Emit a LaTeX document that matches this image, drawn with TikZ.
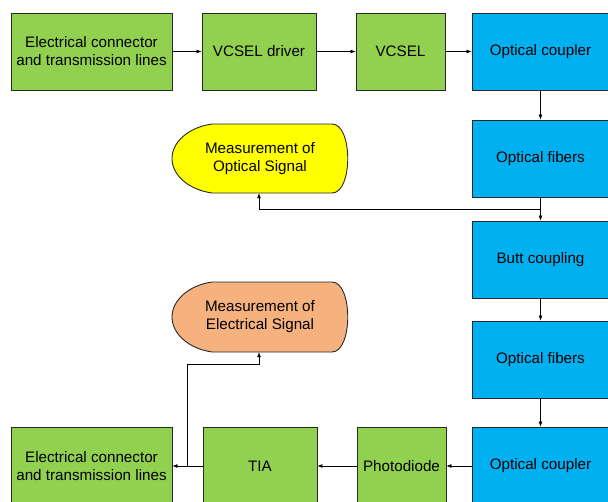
\documentclass[tikz,border=0pt]{standalone}
\usepackage{fontspec}
\setmainfont{Liberation Sans}
\usetikzlibrary{arrows.meta}
\definecolor{boxgreen}{RGB}{146,208,80}
\definecolor{boxblue}{RGB}{0,176,240}
\definecolor{measyellow}{RGB}{255,255,0}
\definecolor{measorange}{RGB}{246,178,126}
\definecolor{edgegray}{RGB}{40,40,40}
\tikzset{
  blockbase/.style={draw=edgegray, line width=0.9pt, align=center, inner sep=0pt,
    font=\fontsize{15.2}{18}\selectfont},
  greenbox/.style={blockbase, fill=boxgreen},
  bluebox/.style={blockbase, fill=boxblue},
  meastext/.style={align=center, inner sep=0pt, minimum width=176pt, minimum height=69pt,
    font=\fontsize{15.2}{18}\selectfont},
  link/.style={line width=0.7pt, -{Latex[length=5pt,width=4pt]}},
}
% box spanning corner (x1,y1) to (x2,y2), in picture units
\newcommand{\blockat}[7]{%
  \node[#1, minimum width={(#4)-(#2)}, minimum height={(#5)-(#3)}]
    (#6) at ({((#2)+(#4))/2},{((#3)+(#5))/2}) {#7};}
% flowchart "display" outline between x1 and x2, from top yt to bottom yb
\newcommand{\displayshape}[5]{%
  \pgfmathsetmacro{\ym}{((#3)+(#4))/2}%
  \path[draw=edgegray, line width=0.9pt, fill=#5]
    ({(#1)+40},#3) -- ({(#2)-16},#3)
    .. controls ({(#2)+5},#3) and ({(#2)+5},#4) .. ({(#2)-16},#4)
    -- ({(#1)+40},#4)
    .. controls ({(#1)+16.7},{(#4)-3.3}) and (#1,{\ym+16.7}) .. (#1,\ym)
    .. controls (#1,{\ym-16.7}) and ({(#1)+16.7},{(#3)+3.3}) .. cycle;}
\begin{document}
\begin{tikzpicture}[x=1pt,y=-1pt]
\useasboundingbox (0,0) rectangle (608,501);

% top row
\blockat{greenbox}{11}{13}{172}{90}{ecin}{Electrical connector\\and transmission lines}
\blockat{greenbox}{202}{13}{316}{90}{drv}{VCSEL driver}
\blockat{greenbox}{356}{13}{445}{90}{vcsel}{VCSEL}
\blockat{bluebox}{472}{13}{609}{90}{ocin}{Optical coupler}

% right column
\blockat{bluebox}{472}{120}{609}{197}{fib1}{Optical fibers}
\blockat{bluebox}{472}{221}{609}{298}{butt}{Butt coupling}
\blockat{bluebox}{472}{321}{609}{398}{fib2}{Optical fibers}

% bottom row
\blockat{bluebox}{472}{427}{609}{505}{ocout}{Optical coupler}
\blockat{greenbox}{357}{427}{446}{505}{pd}{Photodiode}
\blockat{greenbox}{203}{427}{317}{505}{tia}{TIA}
\blockat{greenbox}{11}{427}{172}{505}{ecout}{Electrical connector\\and transmission lines}

% measurement terminals
\displayshape{172}{348}{124}{193}{measyellow}
\node[meastext] (mopt) at (260,158.5) {Measurement of\\Optical Signal};
\displayshape{172}{348}{282}{352}{measorange}
\node[meastext, minimum height=70pt] (melec) at (260,317) {Measurement of\\Electrical Signal};

% signal path
\draw[link] (ecin) -- (drv);
\draw[link] (drv) -- (vcsel);
\draw[link] (vcsel) -- (ocin);
\draw[link] (ocin) -- (fib1);
\draw[link] (fib1) -- (butt);
\draw[link] (butt) -- (fib2);
\draw[link] (fib2) -- (ocout);
\draw[link] (ocout) -- (pd);
\draw[link] (pd) -- (tia);
\draw[link] (tia) -- (ecout);

% monitoring taps
\coordinate (tapopt) at (540,209);
\coordinate (tapel) at (187,466);
\draw[link] (tapopt) -| ([xshift=-1pt]mopt.south);
\draw[link] (tapel) |- (259,364) -- ([xshift=-1pt]melec.south);
\end{tikzpicture}
\end{document}
